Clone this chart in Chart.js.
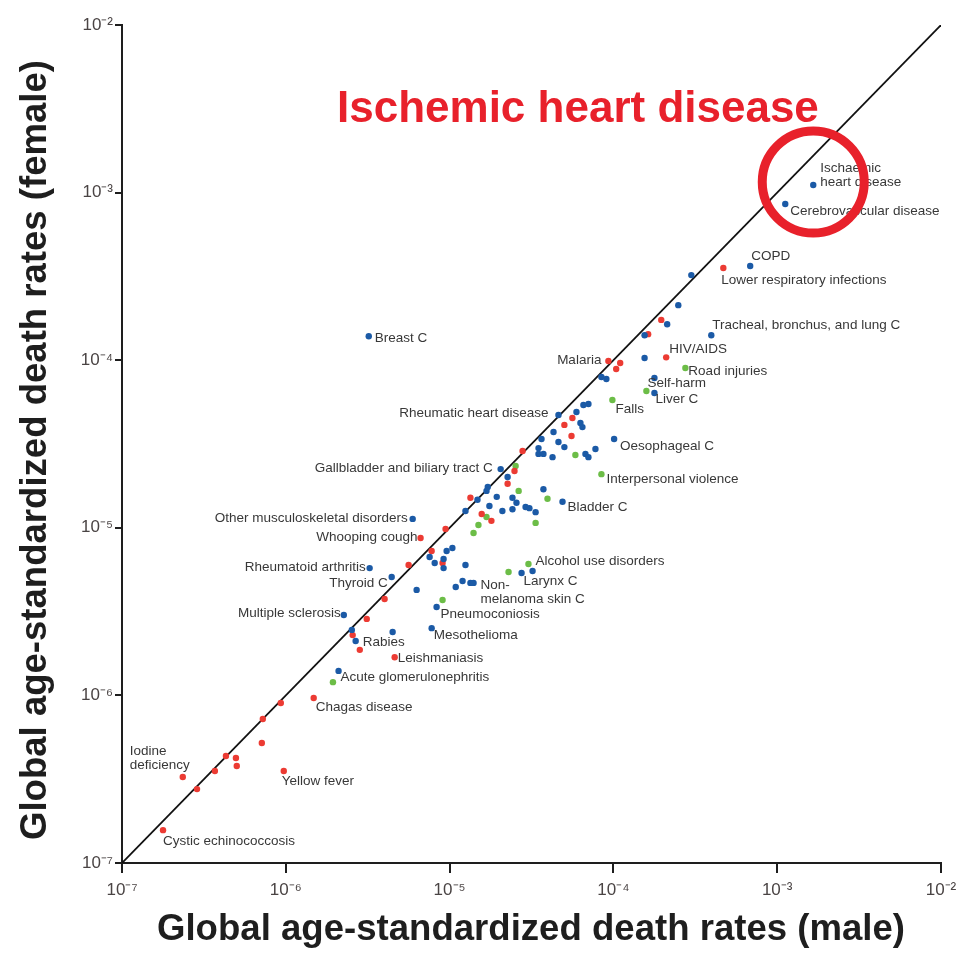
<!DOCTYPE html>
<html>
<head>
<meta charset="utf-8">
<script src="https://cdn.jsdelivr.net/npm/chart.js@4.4.1/dist/chart.umd.min.js"></script>
<style>
  html, body { margin: 0; padding: 0; background: #fff; }
  canvas { display: block; }
</style>
</head>
<body>
<canvas id="rateChart" width="961" height="961"></canvas>
<script>
// --- axis ticks (decades only) ---
const decadeTicks = [1e-7, 1e-6, 1e-5, 1e-4, 1e-3, 1e-2];
const decadeLabels = ['10\u207B\u2077', '10\u207B\u2076', '10\u207B\u2075', '10\u207B\u2074', '10\u207B\u00B3', '10\u207B\u00B2'];

// --- blue causes (male rate, female rate) ---
const blueMale = [1.66e-3, 1.12e-3, 6.84e-4, 2.99e-4, 2.49e-4, 2.13e-4, 3.96e-4, 1.55e-4, 1.55e-4, 1.78e-4,
  1.78e-4, 8.45e-5, 9.06e-5, 7.04e-5, 6.56e-5, 5.95e-5, 4.62e-5, 6.29e-5, 6.47e-5, 4.31e-5,
  3.64e-5, 1.01e-4, 4.62e-5, 5.02e-5, 3.49e-5, 7.77e-5, 3.49e-5, 3.74e-5, 4.25e-5, 6.75e-5,
  7.04e-5, 2.05e-5, 2.26e-5, 1.71e-5, 1.68e-5, 3.74e-5, 4.89e-5, 1.94e-5, 2.42e-5, 2.56e-5,
  1.48e-5, 1.75e-5, 2.91e-5, 3.07e-5, 3.35e-5, 2.42e-5, 2.10e-5, 1.25e-5, 5.95e-6, 9.59e-6,
  1.04e-5, 7.55e-6, 8.11e-6, 9.19e-6, 9.19e-6, 1.25e-5, 3.25e-6, 3.21e-5, 2.75e-5, 4.43e-6,
  1.20e-5, 1.09e-5, 1.34e-5, 1.40e-5, 6.29e-6, 8.33e-6, 2.26e-6, 2.53e-6, 4.49e-6, 7.77e-6,
  2.67e-6, 2.10e-6, 3.21e-6];
const blueFemale = [1.11e-3, 8.55e-4, 3.65e-4, 3.22e-4, 2.13e-4, 1.64e-4, 1.41e-4, 1.41e-4, 1.03e-4, 7.83e-5,
  6.37e-5, 7.94e-5, 7.72e-5, 5.48e-5, 5.40e-5, 4.91e-5, 4.71e-5, 4.22e-5, 3.99e-5, 3.73e-5,
  3.39e-5, 3.39e-5, 3.25e-5, 3.03e-5, 2.99e-5, 2.95e-5, 2.76e-5, 2.76e-5, 2.64e-5, 2.76e-5,
  2.64e-5, 2.24e-5, 2.01e-5, 1.75e-5, 1.66e-5, 1.70e-5, 1.43e-5, 1.53e-5, 1.51e-5, 1.41e-5,
  1.47e-5, 1.35e-5, 1.33e-5, 1.31e-5, 1.24e-5, 1.29e-5, 1.26e-5, 1.26e-5, 1.13e-5, 7.27e-6,
  7.57e-6, 6.70e-6, 6.17e-6, 6.51e-6, 5.75e-6, 6.00e-6, 5.75e-6, 5.52e-6, 5.37e-6, 5.09e-6,
  4.81e-6, 4.43e-6, 4.69e-6, 4.69e-6, 4.26e-6, 3.37e-6, 3.02e-6, 2.46e-6, 2.39e-6, 2.52e-6,
  2.11e-6, 1.40e-6, 1.39e-4];

// --- red causes ---
const redMale = [4.69e-4, 1.96e-4, 1.63e-4, 2.10e-4, 9.32e-5, 1.10e-4, 1.04e-4, 5.62e-5, 5.02e-5, 5.55e-5,
  2.79e-5, 2.49e-5, 2.26e-5, 1.34e-5, 1.57e-5, 1.80e-5, 9.45e-6, 6.65e-6, 7.77e-6, 9.06e-6,
  5.62e-6, 4.01e-6, 3.12e-6, 2.56e-6, 2.83e-6, 4.62e-6, 1.48e-6, 9.32e-7, 7.24e-7, 7.14e-7,
  4.31e-7, 4.96e-7, 5.02e-7, 3.69e-7, 2.35e-7, 9.72e-7, 2.87e-7, 1.78e-7];
const redFemale = [3.55e-4, 1.74e-4, 1.43e-4, 1.04e-4, 9.89e-5, 9.62e-5, 8.86e-5, 4.52e-5, 4.11e-5, 3.53e-5,
  2.87e-5, 2.18e-5, 1.83e-5, 1.51e-5, 1.21e-5, 1.10e-5, 9.84e-6, 8.69e-6, 7.27e-6, 6.17e-6,
  6.00e-6, 3.76e-6, 2.86e-6, 2.29e-6, 1.87e-6, 1.69e-6, 9.65e-7, 9.01e-7, 7.23e-7, 5.20e-7,
  4.35e-7, 4.23e-7, 3.79e-7, 3.54e-7, 3.26e-7, 3.54e-7, 2.76e-7, 1.57e-7];

// --- green causes ---
const greenMale = [2.75e-4, 1.59e-4, 9.86e-5, 5.86e-5, 2.53e-5, 8.45e-5, 2.64e-5, 3.96e-5, 1.68e-5, 1.50e-5,
  3.35e-5, 1.40e-5, 3.03e-5, 2.29e-5, 9.06e-6, 1.94e-6];
const greenFemale = [8.98e-5, 6.55e-5, 5.79e-5, 2.72e-5, 2.34e-5, 2.09e-5, 1.66e-5, 1.49e-5, 1.16e-5, 1.04e-5,
  1.07e-5, 9.31e-6, 6.08e-6, 5.45e-6, 3.71e-6, 1.20e-6];

// --- cause names, tied to a point (group, index) ---
const pointLabels = [
  { group: 0, index: 0,  text: ['Ischaemic', 'heart disease'], dx: 7, dy: -17 },
  { group: 0, index: 1,  text: ['Cerebrovascular disease'], dx: 5, dy: 7 },
  { group: 0, index: 2,  text: ['COPD'], dx: 1, dy: -10 },
  { group: 0, index: 6,  text: ['Tracheal, bronchus, and lung C'], dx: 1, dy: -10 },
  { group: 0, index: 9,  text: ['Self-harm'], dx: -7, dy: 5 },
  { group: 0, index: 10, text: ['Liver C'], dx: 1, dy: 6 },
  { group: 0, index: 16, text: ['Rheumatic heart disease'], dx: -10, dy: -2, align: 'right' },
  { group: 0, index: 21, text: ['Oesophageal C'], dx: 6, dy: 7 },
  { group: 0, index: 31, text: ['Gallbladder and biliary tract C'], dx: -8, dy: -1, align: 'right' },
  { group: 0, index: 36, text: ['Bladder C'], dx: 5, dy: 6 },
  { group: 0, index: 48, text: ['Other musculoskeletal disorders'], dx: -5, dy: -1, align: 'right' },
  { group: 0, index: 56, text: ['Rheumatoid arthritis'], dx: -4, dy: -1, align: 'right' },
  { group: 0, index: 57, text: ['Larynx C'], dx: -9, dy: 10 },
  { group: 0, index: 59, text: ['Thyroid C'], dx: -4, dy: 6, align: 'right' },
  { group: 0, index: 62, text: ['Non-', 'melanoma skin C'], dx: 10, dy: 2 },
  { group: 0, index: 65, text: ['Pneumoconiosis'], dx: 4, dy: 7 },
  { group: 0, index: 66, text: ['Multiple sclerosis'], dx: -3, dy: -2, align: 'right' },
  { group: 0, index: 69, text: ['Mesothelioma'], dx: 2, dy: 7 },
  { group: 0, index: 70, text: ['Rabies'], dx: 7, dy: 1 },
  { group: 0, index: 71, text: ['Acute glomerulonephritis'], dx: 2, dy: 6 },
  { group: 0, index: 72, text: ['Breast C'], dx: 6, dy: 2 },
  { group: 1, index: 0,  text: ['Lower respiratory infections'], dx: -2, dy: 12 },
  { group: 1, index: 3,  text: ['HIV/AIDS'], dx: 3, dy: -8 },
  { group: 1, index: 4,  text: ['Malaria'], dx: -7, dy: -1, align: 'right' },
  { group: 1, index: 17, text: ['Whooping cough'], dx: -3, dy: -1, align: 'right' },
  { group: 1, index: 25, text: ['Leishmaniasis'], dx: 3, dy: 1 },
  { group: 1, index: 26, text: ['Chagas disease'], dx: 2, dy: 9 },
  { group: 1, index: 34, text: ['Iodine', 'deficiency'], dx: -53, dy: -26 },
  { group: 1, index: 35, text: ['Yellow fever'], dx: -2, dy: 10 },
  { group: 1, index: 37, text: ['Cystic echinococcosis'], dx: 0, dy: 11 },
  { group: 2, index: 0,  text: ['Road injuries'], dx: 3, dy: 3 },
  { group: 2, index: 2,  text: ['Falls'], dx: 3, dy: 9 },
  { group: 2, index: 5,  text: ['Interpersonal violence'], dx: 5, dy: 5 },
  { group: 2, index: 12, text: ['Alcohol use disorders'], dx: 7, dy: -3 }
];

const BLUE = '#1b5aa6';
const RED = '#ec3b33';
const GREEN = '#6cbd47';
const MARK = '#e8212b';

const toPoints = (xs, ys) => xs.map((x, i) => ({ x: x, y: ys[i] }));

function drawFitted(ctx, text, x, y, width, font, rotate) {
  ctx.save();
  ctx.font = font;
  const w = ctx.measureText(text).width;
  ctx.translate(x, y);
  if (rotate) ctx.rotate(-Math.PI / 2);
  ctx.scale(width / w, 1);
  ctx.textAlign = 'left';
  ctx.textBaseline = 'alphabetic';
  ctx.fillText(text, 0, 0);
  ctx.restore();
}

const annotate = {
  id: 'annotate',
  afterDatasetsDraw(chart) {
    const ctx = chart.ctx;
    ctx.save();

    // cause names
    ctx.font = '13.5px "Liberation Sans", Arial, sans-serif';
    ctx.fillStyle = '#383838';
    ctx.textBaseline = 'middle';
    pointLabels.forEach(l => {
      const pt = chart.getDatasetMeta(l.group).data[l.index];
      if (!pt) return;
      ctx.textAlign = l.align || 'left';
      l.text.forEach((line, i) => ctx.fillText(line, pt.x + l.dx, pt.y + l.dy + i * 14.5));
    });

    // highlight ring + headline
    const ihd = chart.getDatasetMeta(0).data[0];
    ctx.strokeStyle = MARK;
    ctx.lineWidth = 9;
    ctx.beginPath();
    ctx.arc(ihd.x, ihd.y - 3, 51, 0, Math.PI * 2);
    ctx.stroke();

    ctx.fillStyle = MARK;
    ctx.textAlign = 'left';
    ctx.textBaseline = 'alphabetic';
    ctx.font = 'bold 44px "Liberation Sans", Arial, sans-serif';
    ctx.fillText('Ischemic heart disease', 337, 122);

    // axis titles
    ctx.fillStyle = '#1e1e1e';
    drawFitted(ctx, 'Global age-standardized death rates (male)', 157, 940, 748,
      'bold 36px "Liberation Sans", Arial, sans-serif', false);
    drawFitted(ctx, 'Global age-standardized death rates (female)', 46, 840, 780,
      'bold 36px "Liberation Sans", Arial, sans-serif', true);

    ctx.restore();
  }
};

const tickFont = { family: '"Liberation Sans", Arial, sans-serif', size: 17 };

new Chart(document.getElementById('rateChart').getContext('2d'), {
  type: 'scatter',
  data: {
    datasets: [
      { label: 'blue', data: toPoints(blueMale, blueFemale), backgroundColor: BLUE, pointRadius: 3.2, borderWidth: 0, order: 0 },
      { label: 'red', data: toPoints(redMale, redFemale), backgroundColor: RED, pointRadius: 3.2, borderWidth: 0, order: 0 },
      { label: 'green', data: toPoints(greenMale, greenFemale), backgroundColor: GREEN, pointRadius: 3.2, borderWidth: 0, order: 0 },
      {
        type: 'line', label: 'equal', data: [{ x: 1e-7, y: 1e-7 }, { x: 1e-2, y: 1e-2 }],
        borderColor: '#111', borderWidth: 1.8, pointRadius: 0, fill: false, order: 10
      }
    ]
  },
  options: {
    responsive: false,
    animation: false,
    layout: { padding: { top: 25, right: 20, left: 0, bottom: 0 } },
    plugins: { legend: { display: false }, tooltip: { enabled: false } },
    scales: {
      x: {
        type: 'logarithmic', min: 1e-7, max: 1e-2,
        afterBuildTicks: s => { s.ticks = decadeTicks.map(v => ({ value: v })); },
        afterFit: s => { s.height = 98; s.paddingLeft = 0; s.paddingRight = 0; },
        ticks: { callback: (v, i) => decadeLabels[i], font: tickFont, color: '#4a4444', padding: 7, maxRotation: 0, autoSkip: false },
        grid: { drawOnChartArea: false, tickLength: 10, color: '#1e1e1e', lineWidth: 2 },
        border: { color: '#1e1e1e', width: 2 }
      },
      y: {
        type: 'logarithmic', min: 1e-7, max: 1e-2,
        afterBuildTicks: s => { s.ticks = decadeTicks.map(v => ({ value: v })); },
        afterFit: s => { s.width = 122; s.paddingTop = 0; s.paddingBottom = 0; },
        ticks: { callback: (v, i) => decadeLabels[i], font: tickFont, color: '#4a4444', padding: 2, autoSkip: false },
        grid: { drawOnChartArea: false, tickLength: 7, color: '#1e1e1e', lineWidth: 2 },
        border: { color: '#1e1e1e', width: 2 }
      }
    }
  },
  plugins: [annotate]
});
</script>
</body>
</html>
